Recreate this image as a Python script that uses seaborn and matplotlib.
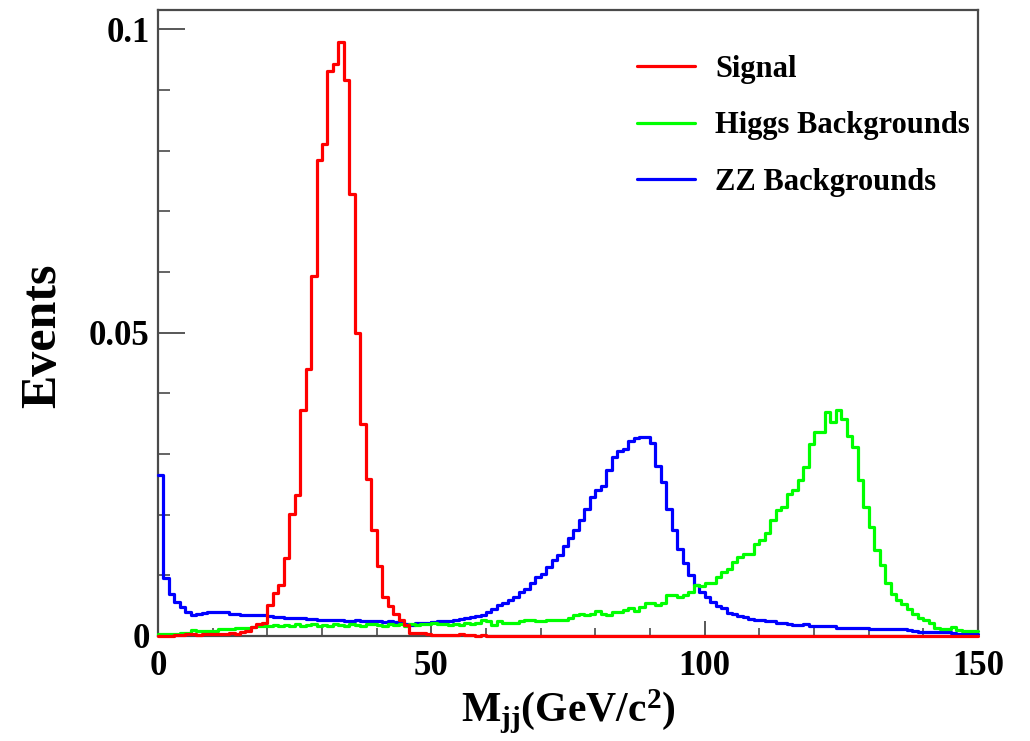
import numpy as np
import pandas as pd
import matplotlib
matplotlib.use("Agg")
import matplotlib.pyplot as plt
from matplotlib.ticker import MultipleLocator, FixedLocator, FixedFormatter
import seaborn as sns

# bin edges: 150 bins of 1 GeV from 0 to 150
edges = list(range(0, 151))
centers = [e + 0.5 for e in edges[:-1]]

signal = [
    0, 0, 0, 0.0002, 0.0002, 0.0003, 0.0003, 0.0002, 0.0003, 0.0004,
    0.0003, 0.0004, 0.0004, 0.0005, 0.0004, 0.0006, 0.0009, 0.0015, 0.0019, 0.0022,
    0.0051, 0.0071, 0.0084, 0.0129, 0.0201, 0.0232, 0.0372, 0.0440, 0.0594, 0.0784,
    0.0811, 0.0932, 0.0943, 0.0980, 0.0916, 0.0728, 0.0500, 0.0350, 0.0258, 0.0175,
    0.0115, 0.0065, 0.0049, 0.0036, 0.0026, 0.0018, 0.0005, 0.0005, 0.0005, 0.0003,
    0.0001, 0.0001, 0.0001, 0.0001, 0.0001, 0.0004, 0.0001, 0.0001, 0, 0.0001,
] + [0] * 90

zz_bkg = [
    0.0265, 0.0095, 0.0069, 0.0056, 0.0048, 0.0040, 0.0035, 0.0037, 0.0038, 0.0040,
    0.0040, 0.0039, 0.0039, 0.0036, 0.0036, 0.0035, 0.0035, 0.0034, 0.0034, 0.0034,
    0.0033, 0.0032, 0.0031, 0.0030, 0.0030, 0.0029, 0.0029, 0.0028, 0.0028, 0.0027,
    0.0027, 0.0026, 0.0027, 0.0026, 0.0025, 0.0025, 0.0026, 0.0024, 0.0025, 0.0024,
    0.0024, 0.0023, 0.0024, 0.0023, 0.0023, 0.0019, 0.0018, 0.0021, 0.0022, 0.0022,
    0.0023, 0.0024, 0.0025, 0.0025, 0.0026, 0.0028, 0.0029, 0.0031, 0.0033, 0.0035,
    0.0040, 0.0044, 0.0051, 0.0055, 0.0059, 0.0065, 0.0072, 0.0078, 0.0087, 0.0097,
    0.0103, 0.0114, 0.0125, 0.0133, 0.0148, 0.0161, 0.0174, 0.0192, 0.0210, 0.0229,
    0.0240, 0.0248, 0.0273, 0.0295, 0.0305, 0.0309, 0.0321, 0.0327, 0.0328, 0.0328,
    0.0318, 0.0281, 0.0254, 0.0210, 0.0175, 0.0144, 0.0120, 0.0100, 0.0084, 0.0073,
    0.0064, 0.0056, 0.0049, 0.0046, 0.0038, 0.0036, 0.0033, 0.0031, 0.0028, 0.0027,
    0.0026, 0.0025, 0.0024, 0.0022, 0.0021, 0.0020, 0.0018, 0.0018, 0.0020, 0.0017,
    0.0017, 0.0017, 0.0017, 0.0017, 0.0014, 0.0014, 0.0014, 0.0014, 0.0014, 0.0013,
    0.0012, 0.0011, 0.0011, 0.0011, 0.0011, 0.0011, 0.0011, 0.0010, 0.0009, 0.0007,
    0.0007, 0.0007, 0.0007, 0.0006, 0.0006, 0.0005, 0.0004, 0.0004, 0.0004, 0.0004,
]

higgs_bkg = [
    0.0004, 0.0004, 0.0004, 0.0004, 0.0005, 0.0005, 0.0010, 0.0008, 0.0008, 0.0008,
    0.0009, 0.0011, 0.0011, 0.0012, 0.0014, 0.0014, 0.0013, 0.0015, 0.0017, 0.0016,
    0.0016, 0.0018, 0.0016, 0.0018, 0.0017, 0.0019, 0.0016, 0.0018, 0.0020, 0.0017,
    0.0018, 0.0016, 0.0019, 0.0018, 0.0017, 0.0019, 0.0018, 0.0016, 0.0019, 0.0020,
    0.0018, 0.0017, 0.0019, 0.0018, 0.0020, 0.0017, 0.0019, 0.0018, 0.0020, 0.0019,
    0.0021, 0.0019, 0.0020, 0.0018, 0.0019, 0.0018, 0.0021, 0.0019, 0.0022, 0.0027,
    0.0024, 0.0018, 0.0024, 0.0021, 0.0022, 0.0022, 0.0024, 0.0026, 0.0027, 0.0025,
    0.0024, 0.0026, 0.0027, 0.0026, 0.0026, 0.0029, 0.0035, 0.0036, 0.0035, 0.0037,
    0.0042, 0.0037, 0.0035, 0.0039, 0.0039, 0.0043, 0.0046, 0.0042, 0.0048, 0.0055,
    0.0055, 0.0051, 0.0055, 0.0067, 0.0067, 0.0065, 0.0067, 0.0073, 0.0084, 0.0083,
    0.0087, 0.0088, 0.0098, 0.0106, 0.0111, 0.0122, 0.0130, 0.0136, 0.0136, 0.0151,
    0.0159, 0.0170, 0.0191, 0.0208, 0.0212, 0.0234, 0.0240, 0.0257, 0.0278, 0.0317,
    0.0336, 0.0336, 0.0369, 0.0352, 0.0372, 0.0358, 0.0329, 0.0311, 0.0257, 0.0213,
    0.0180, 0.0141, 0.0117, 0.0087, 0.0070, 0.0059, 0.0053, 0.0044, 0.0037, 0.0029,
    0.0026, 0.0021, 0.0014, 0.0011, 0.0011, 0.0015, 0.0010, 0.0008, 0.0008, 0.0008,
]

labels = ["Signal", "Higgs Backgrounds", "ZZ Backgrounds"]
colors = ["#ff0000", "#00ff00", "#0000ff"]

sns.set_style("ticks")
plt.rcParams["font.family"] = ["Liberation Serif", "DejaVu Serif"]
plt.rcParams["font.weight"] = "bold"
plt.rcParams["text.color"] = "black"
plt.rcParams["axes.labelcolor"] = "black"
plt.rcParams["xtick.color"] = "black"
plt.rcParams["ytick.color"] = "black"
plt.rcParams["mathtext.fontset"] = "custom"
plt.rcParams["mathtext.rm"] = "Liberation Serif:bold"
plt.rcParams["mathtext.it"] = "Liberation Serif:bold"
plt.rcParams["mathtext.bf"] = "Liberation Serif:bold"

fig = plt.figure(figsize=(10.3, 7.41), dpi=100)
ax = fig.add_axes([158 / 1030, 105 / 741, 820 / 1030, 626 / 741])

series = [signal, higgs_bkg, zz_bkg]
order = [2, 1, 0]  # draw ZZ first, signal last
for i in order:
    df = pd.DataFrame({"mjj": centers, "w": series[i]})
    sns.histplot(data=df, x="mjj", weights="w", bins=edges, element="step",
                 fill=False, color=colors[i], linewidth=2.3, ax=ax,
                 label=labels[i], zorder=3, clip_on=False)

ax.set_xlim(0, 150)
ax.set_ylim(0, 0.1032)

# ROOT-like frame and ticks
for s in ax.spines.values():
    s.set_visible(True)
    s.set_color("#4a4a4a")
    s.set_linewidth(1.6)

ax.xaxis.set_major_locator(FixedLocator([0, 50, 100, 150]))
ax.xaxis.set_minor_locator(MultipleLocator(10))
ax.yaxis.set_major_locator(FixedLocator([0, 0.05, 0.1]))
ax.yaxis.set_major_formatter(FixedFormatter(["0", "0.05", "0.1"]))
ax.yaxis.set_minor_locator(MultipleLocator(0.01))

ax.tick_params(axis="both", which="both", direction="in", color="#4a4a4a",
               labelcolor="black", bottom=True, left=True, top=False, right=False)
ax.tick_params(axis="x", which="major", length=11, width=1.3, pad=10, labelsize=25)
ax.tick_params(axis="x", which="minor", length=5.5, width=1.2)
ax.tick_params(axis="y", which="major", length=19.5, width=1.3, pad=6, labelsize=25)
ax.tick_params(axis="y", which="minor", length=8.6, width=1.2)
for lab in ax.get_xticklabels() + ax.get_yticklabels():
    lab.set_fontweight("bold")

ax.set_xlabel(r"$\mathrm{M_{jj}(GeV/c^{2})}$", fontsize=30, color="black")
ax.xaxis.set_label_coords(0.5, -0.083)
ax.set_ylabel("Events", fontsize=36, fontweight="bold", color="black")
ax.yaxis.set_label_coords(-0.112, 0.48)

h, l = ax.get_legend_handles_labels()
lookup = dict(zip(l, h))
leg = ax.legend([lookup[k] for k in labels], labels, loc="upper left",
                bbox_to_anchor=(637 / 1030, 0.926), bbox_transform=fig.transFigure,
                frameon=False, borderpad=0, borderaxespad=0, handlelength=1.9,
                handletextpad=0.65, labelspacing=0.9,
                prop={"family": "Liberation Serif", "weight": "bold", "size": 22})
for t in leg.get_texts():
    t.set_color("black")

fig.savefig("out.png", dpi=100)
